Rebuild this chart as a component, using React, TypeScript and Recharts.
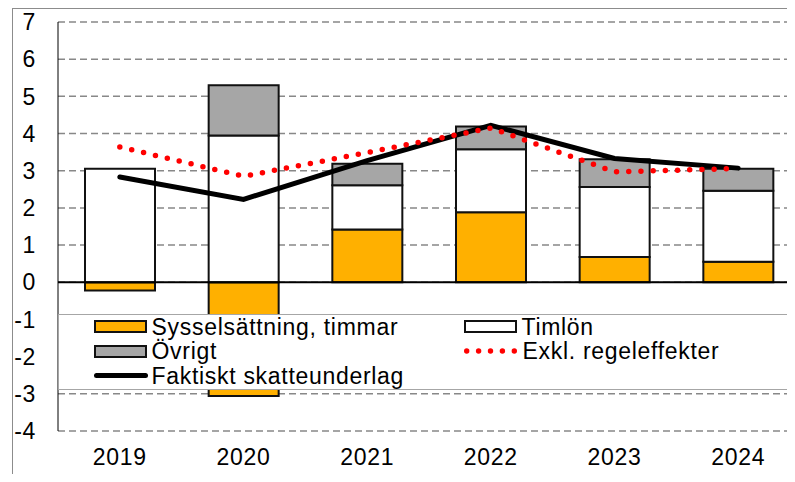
import {
  Bar,
  CartesianGrid,
  ComposedChart,
  Legend,
  Line,
  ReferenceLine,
  XAxis,
  YAxis,
} from "recharts";

const years = ["2019", "2020", "2021", "2022", "2023", "2024"];
const sysselsattning = [-0.22, -3.06, 1.42, 1.88, 0.68, 0.55];
const timlon = [3.05, 3.95, 1.19, 1.7, 1.88, 1.91];
const ovrigt = [0, 1.35, 0.58, 0.61, 0.75, 0.59];
const exklRegel = [3.64, 2.85, 3.49, 4.15, 2.97, 3.06];
const faktiskt = [2.83, 2.23, 3.27, 4.22, 3.33, 3.07];
const yTicks = [-4, -3, -2, -1, 0, 1, 2, 3, 4, 5, 6, 7];

const data = years.map((year, i) => ({
  year,
  syss: sysselsattning[i],
  timlon: timlon[i],
  ovrigt: ovrigt[i],
  exkl: exklRegel[i],
  faktiskt: faktiskt[i],
}));

const ORANGE = "#FFB000";
const GREY = "#A6A6A6";
const FONT = "'Liberation Sans', Arial, sans-serif";
const FS = 23;

function BarSwatch({ color }: { color: string }) {
  return (
    <div
      style={{
        width: 53,
        height: 13,
        boxSizing: "border-box",
        border: "2px solid #111",
        background: color,
        marginRight: 5,
      }}
    />
  );
}

function LineSwatch() {
  return (
    <div
      style={{
        width: 54,
        height: 5,
        borderRadius: 3,
        background: "#000",
        marginRight: 4,
      }}
    />
  );
}

function DotSwatch() {
  return (
    <svg width={54} height={6} style={{ marginRight: 5 }}>
      {[0, 1, 2, 3, 4].map((i) => (
        <circle key={i} cx={2.7 + i * 11.9} cy={3} r={2.7} fill="#FF0000" />
      ))}
    </svg>
  );
}

function LegendBox() {
  const row = { display: "flex", alignItems: "center", height: 24.6 };
  const text = { fontSize: FS, lineHeight: "24.6px", color: "#000", whiteSpace: "nowrap" as const };
  return (
    <div
      style={{
        display: "grid",
        gridTemplateColumns: "370px auto",
        paddingLeft: 34.5,
        fontFamily: FONT,
        letterSpacing: 0.7,
      }}
    >
      <div style={row}>
        <BarSwatch color={ORANGE} />
        <span style={text}>Sysselsättning, timmar</span>
      </div>
      <div style={row}>
        <BarSwatch color="#fff" />
        <span style={text}>Timlön</span>
      </div>
      <div style={row}>
        <BarSwatch color={GREY} />
        <span style={text}>Övrigt</span>
      </div>
      <div style={row}>
        <DotSwatch />
        <span style={text}>Exkl. regeleffekter</span>
      </div>
      <div style={row}>
        <LineSwatch />
        <span style={text}>Faktiskt skatteunderlag</span>
      </div>
    </div>
  );
}

export default function App() {
  return (
    <div
      style={{
        margin: -8,
        width: 795,
        height: 482,
        overflow: "hidden",
        position: "relative",
        background: "#fff",
        fontFamily: FONT,
        letterSpacing: 0.7,
      }}
    >
      <div
        style={{
          position: "absolute",
          left: 12,
          top: 7.5,
          width: 820,
          height: 520,
          borderLeft: "1.5px solid #8c8c8c",
          borderTop: "1.5px solid #8c8c8c",
        }}
      />
      <ComposedChart
        width={800}
        height={482}
        data={data}
        stackOffset="sign"
        margin={{ top: 22, right: 0, bottom: 0, left: 0 }}
        barSize={70}
      >
        <CartesianGrid
          horizontal
          vertical={false}
          stroke="#888"
          strokeWidth={1.5}
          strokeDasharray="7 4"
        />
        <XAxis
          dataKey="year"
          height={51}
          axisLine={false}
          tickLine={false}
          tickSize={0}
          tickMargin={18}
          tick={{ fontSize: FS, fill: "#000" }}
        />
        <YAxis
          width={58}
          domain={[-4, 7]}
          ticks={yTicks}
          interval={0}
          axisLine={{ stroke: "#000", strokeWidth: 1 }}
          tickLine={false}
          tickSize={0}
          tickMargin={22}
          tick={{ fontSize: FS, fill: "#000" }}
        />
        <Bar dataKey="syss" stackId="a" fill={ORANGE} stroke="#111" strokeWidth={2} isAnimationActive={false} />
        <Bar dataKey="timlon" stackId="a" fill="#fff" stroke="#111" strokeWidth={2} isAnimationActive={false} />
        <Bar dataKey="ovrigt" stackId="a" fill={GREY} stroke="#111" strokeWidth={2} isAnimationActive={false} />
        <ReferenceLine y={0} stroke="#000" strokeWidth={2} />
        <Line
          type="linear"
          dataKey="faktiskt"
          stroke="#000"
          strokeWidth={5}
          strokeLinecap="round"
          dot={false}
          activeDot={false}
          isAnimationActive={false}
        />
        <Line
          type="linear"
          dataKey="exkl"
          stroke="#FF0000"
          strokeWidth={5.5}
          strokeDasharray="0 12.2"
          strokeLinecap="round"
          dot={false}
          activeDot={false}
          isAnimationActive={false}
        />
        <Legend
          verticalAlign="middle"
          align="center"
          layout="horizontal"
          content={() => <LegendBox />}
          wrapperStyle={{
            left: 58,
            top: 313.5,
            width: 760,
            height: 76.5,
            boxSizing: "border-box",
            background: "#fff",
            borderTop: "1.5px solid #a6a6a6",
            borderBottom: "1.5px solid #a6a6a6",
            borderLeft: "1.5px solid #a6a6a6",
          }}
        />
      </ComposedChart>
    </div>
  );
}
